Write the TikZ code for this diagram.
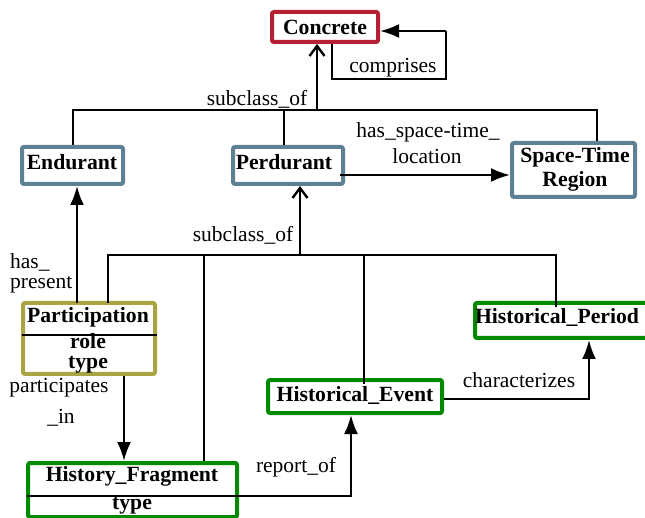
\documentclass[tikz,border=0pt]{standalone}
\usepackage{fontspec}
\setmainfont{Liberation Serif}
\usetikzlibrary{arrows.meta}
\definecolor{cred}{HTML}{B52033}
\definecolor{cblue}{HTML}{5E8094}
\definecolor{colive}{HTML}{A9A545}
\definecolor{cgreen}{HTML}{008A00}
\begin{document}
\begin{tikzpicture}[x=1pt,y=-1pt,
  box/.style={draw, line width=4pt, rounded corners=2pt, inner sep=0pt, fill=white},
  btxt/.style={font=\fontsize{21.7}{25}\selectfont\bfseries, inner sep=0pt},
  lbl/.style={font=\fontsize{21.5}{25}\selectfont, inner sep=0pt},
  conn/.style={line width=2.4pt},
  fa/.style={conn, -{Latex[length=19pt,width=14pt]}},
  oa/.style={conn, -{Straight Barb[length=10pt,width=15pt,line width=2.4pt]}}
]
\useasboundingbox (0,0) rectangle (645,518);
\clip (0,0) rectangle (645,518);
\fill[white] (0,0) rectangle (645,518);

% boxes
\node[box, draw=cred, minimum width=106pt, minimum height=30pt] (conc) at (325,27) {};
\node[box, draw=cblue, minimum width=101pt, minimum height=37pt] (endu) at (72.5,165.5) {};
\node[box, draw=cblue, minimum width=110pt, minimum height=37pt] (perd) at (288,165.5) {};
\node[box, draw=cblue, minimum width=123pt, minimum height=54pt] (str) at (573.5,170) {};
\node[box, draw=colive, minimum width=132pt, minimum height=71pt] (part) at (89,338.5) {};
\node[box, draw=cgreen, minimum width=209pt, minimum height=54pt] (hf) at (132.5,490) {};
\node[box, draw=cgreen, minimum width=174pt, minimum height=33pt] (he) at (355,396.5) {};
\node[box, draw=cgreen, minimum width=178pt, minimum height=35pt] (hp) at (564,320.5) {};

% top bus
\coordinate (b1l) at (73,110);
\coordinate (b1r) at (597,110);
\draw[conn] (endu.north -| b1l) -- (b1l) -- (b1r) -- (str.north -| b1r);
\draw[conn] (284,110) -- (perd.north -| 284,0);
\coordinate (b1a) at (317,110);
\draw[oa] (b1a) -- (conc.south -| b1a);

% self loop
\coordinate (l1) at (332,79);
\coordinate (l2) at (446,79);
\coordinate (l3) at (446,31);
\draw[conn] (conc.south -| l1) -- (l1) -- (l2) -- (l3);
\draw[fa] (l3) -- (conc.east |- l3);

% has_space-time_location
\coordinate (p1) at (340,175);
\draw[fa] (p1) -- (str.west |- p1);

% has_present
\coordinate (hp1) at (77,303);
\draw[fa] (hp1) -- (endu.south -| hp1);

% second bus
\coordinate (b2l) at (108,255);
\coordinate (b2r) at (556,255);
\draw[conn] (108,303) -- (b2l) -- (b2r) -- (556,307);
\draw[conn] (204,255) -- (hf.north -| 204,0);
\draw[conn] (364,255) -- (364,384);
\coordinate (b2a) at (300,255);
\draw[oa] (b2a) -- (perd.south -| b2a);

% participates_in
\coordinate (pi1) at (124,376);
\draw[fa] (part.south -| pi1) -- (hf.north -| pi1);

% report_of
\coordinate (r1) at (27,496);
\coordinate (r2) at (351,496);
\draw[fa] (r1) -- (r2) -- (he.south -| r2);

% characterizes
\coordinate (c1) at (444,399);
\coordinate (c2) at (589,399);
\draw[fa] (he.east |- c1) -- (c2) -- (hp.south -| c2);

% divider in participation
\draw[conn] (22,335) -- (157,335);

% box texts
\node[btxt] (tconc) at (325,27) {Concrete};
\node[btxt] (tendu) at (72,162) {Endurant};
\node[btxt] (tperd) at (284,162) {Perdurant};
\node[btxt] (tstr1) at (575,157) {Space-Time};
\node[btxt] (tstr2) at (575,181) {Region};
\node[btxt] (tpart1) at (88,317) {Participation};
\node[btxt] (tpart2) at (88,341) {role};
\node[btxt] (tpart3) at (88,365) {type};
\node[btxt] (thf1) at (132,476) {History\_Fragment};
\node[btxt] (thf2) at (132,506) {type};
\node[btxt] (the) at (355,395) {Historical\_Event};
\node[btxt] (thp) at (557,317) {Historical\_Period};

% labels
\node[lbl] (lsub1) at (257,99) {subclass\_of};
\node[lbl] (lcomp) at (393,68) {comprises};
\node[lbl] (lhst1) at (428,132) {has\_space-time\_};
\node[lbl] (lhst2) at (427,156) {location};
\node[lbl, anchor=west] (lhas1) at (10,262) {has\_};
\node[lbl, anchor=west] (lhas2) at (10,285) {present};
\node[lbl] (lsub2) at (243,235) {subclass\_of};
\node[lbl] (lpart1) at (59,388) {participates};
\node[lbl] (lpart2) at (61,418) {\_in};
\node[lbl] (lrep) at (296,467) {report\_of};
\node[lbl] (lchar) at (519,380) {characterizes};
\end{tikzpicture}
\end{document}
